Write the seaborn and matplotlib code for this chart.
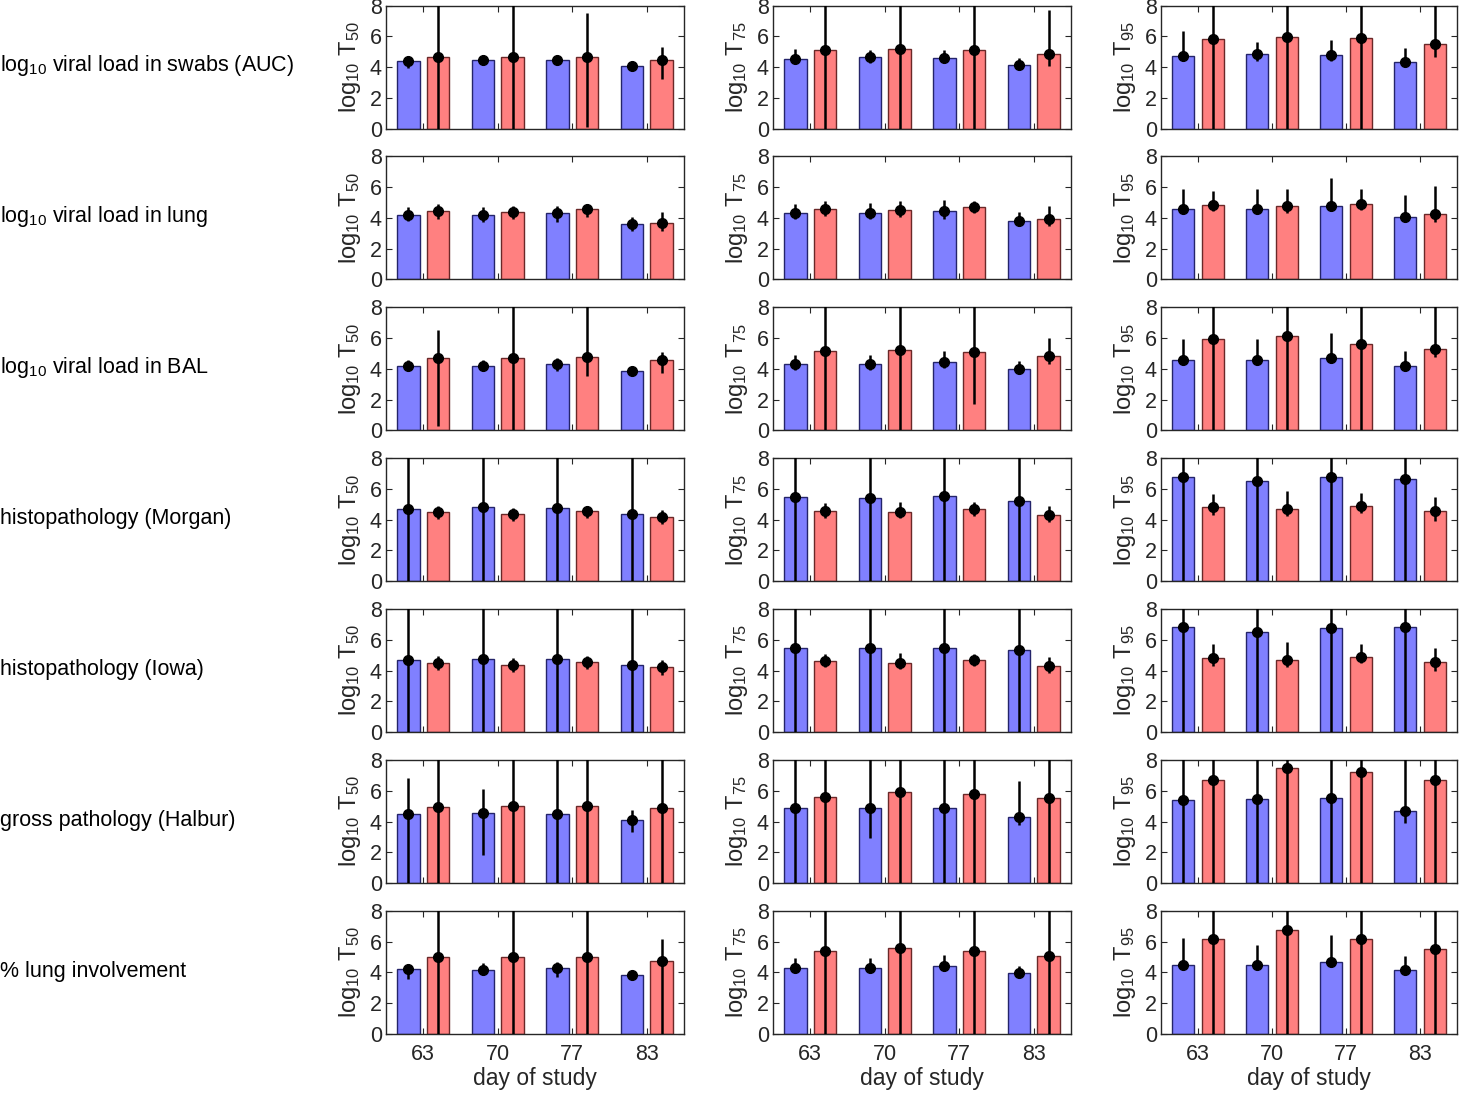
import numpy as np
import pandas as pd
import matplotlib
matplotlib.use('Agg')
import matplotlib.pyplot as plt
import seaborn as sns

days = ['63', '70', '77', '83']
row_labels = [
    r'log$_{10}$ viral load in swabs (AUC)',
    r'log$_{10}$ viral load in lung',
    r'log$_{10}$ viral load in BAL',
    'histopathology (Morgan)',
    'histopathology (Iowa)',
    'gross pathology (Halbur)',
    '% lung involvement',
]
quantiles = ['50', '75', '95']

OFF = 10.0  # interval end lies above the top of the axis

# ---- T50 ----
t50_blue = [[4.40, 4.47, 4.45, 4.04], [4.20, 4.18, 4.30, 3.63], [4.21, 4.21, 4.30, 3.88],
            [4.69, 4.80, 4.76, 4.39], [4.67, 4.78, 4.74, 4.39], [4.47, 4.54, 4.52, 4.10],
            [4.20, 4.15, 4.28, 3.85]]
t50_blue_lo = [[3.95, 4.10, 4.30, 3.95], [3.81, 3.74, 3.74, 3.15], [3.84, 3.84, 3.84, 3.62],
               [0, 0, 0, 0], [0, 0, 0, 0], [0, 1.82, 0, 3.31], [3.56, 3.83, 3.72, 3.67]]
t50_blue_hi = [[4.69, 4.75, 4.60, 4.15], [4.69, 4.69, 4.76, 4.03], [4.56, 4.56, 4.71, 4.06],
               [OFF, OFF, OFF, OFF], [OFF, OFF, OFF, OFF], [6.80, 6.10, OFF, 4.78],
               [4.55, 4.59, 4.66, 4.04]]
t50_red = [[4.65, 4.62, 4.67, 4.45], [4.43, 4.36, 4.56, 3.70], [4.69, 4.67, 4.78, 4.56],
           [4.47, 4.36, 4.56, 4.19], [4.47, 4.36, 4.56, 4.21], [4.96, 5.04, 4.98, 4.87],
           [4.98, 4.98, 4.98, 4.77]]
t50_red_lo = [[0, 0, 0.1, 3.23], [3.92, 3.92, 4.07, 3.15], [0.26, 0, 3.51, 3.73],
              [4.06, 3.93, 4.14, 3.71], [4.01, 3.88, 4.10, 3.73], [0, 0, 0, 0], [0, 0, 0, 0]]
t50_red_hi = [[OFF, OFF, 7.53, 5.33], [4.91, 4.80, 4.91, 4.36], [6.51, OFF, OFF, 5.09],
              [4.87, 4.76, 4.87, 4.65], [4.93, 4.82, 4.93, 4.71], [OFF, OFF, OFF, OFF],
              [OFF, OFF, OFF, 6.19]]

# ---- T75 ----
t75_blue = [[4.52, 4.62, 4.56, 4.13], [4.34, 4.34, 4.45, 3.83], [4.32, 4.32, 4.45, 3.99],
            [5.48, 5.44, 5.53, 5.20], [5.50, 5.44, 5.50, 5.33], [4.85, 4.89, 4.89, 4.32],
            [4.31, 4.31, 4.44, 3.96]]
t75_blue_lo = [[4.26, 4.26, 4.26, 3.94], [3.92, 3.92, 3.92, 3.48], [3.95, 3.95, 4.06, 3.73],
               [0, 0, 0, 0], [0, 0, 0, 0], [0, 2.92, 0, 3.79], [4.04, 4.04, 4.11, 3.78]]
t75_blue_hi = [[5.16, 5.08, 5.08, 4.58], [4.91, 4.98, 5.18, 4.41], [4.93, 4.93, 5.15, 4.50],
               [OFF, OFF, OFF, OFF], [OFF, OFF, OFF, OFF], [OFF, OFF, OFF, 6.64],
               [4.92, 4.94, 5.14, 4.39]]
t75_red = [[5.12, 5.16, 5.12, 4.86], [4.60, 4.49, 4.69, 3.90], [5.15, 5.22, 5.09, 4.82],
           [4.58, 4.47, 4.69, 4.32], [4.60, 4.50, 4.67, 4.32], [5.61, 5.92, 5.81, 5.53],
           [5.42, 5.60, 5.42, 5.09]]
t75_red_lo = [[0, 0, 0, 4.04], [4.14, 4.03, 4.30, 3.48], [0, 0, 1.71, 4.28],
              [4.14, 4.10, 4.21, 3.84], [4.21, 4.10, 4.28, 3.84], [0, 0, 0, 0], [0, 0, 0, 0]]
t75_red_hi = [[OFF, OFF, OFF, 7.70], [5.09, 5.13, 5.09, 4.80], [OFF, OFF, OFF, 6.03],
              [5.09, 5.15, 5.15, 4.87], [5.11, 5.15, 5.11, 4.89], [OFF, OFF, OFF, OFF],
              [OFF, OFF, OFF, OFF]]

# ---- T95 ----
t95_blue = [[4.71, 4.84, 4.75, 4.32], [4.57, 4.59, 4.75, 4.08], [4.57, 4.60, 4.71, 4.20],
            [6.75, 6.54, 6.80, 6.62], [6.82, 6.54, 6.78, 6.82], [5.42, 5.46, 5.55, 4.67],
            [4.50, 4.50, 4.66, 4.13]]
t95_blue_lo = [[4.37, 4.37, 4.37, 4.04], [4.30, 4.30, 4.42, 3.75], [4.31, 4.31, 4.42, 3.98],
               [0, 0, 0, 0], [0, 0, 0, 0], [0, 0, 0, 3.90], [4.33, 4.33, 4.44, 3.96]]
t95_blue_hi = [[6.37, 5.61, 5.76, 5.23], [5.85, 5.89, 6.62, 5.52], [5.97, 5.92, 6.30, 5.19],
               [OFF, OFF, OFF, OFF], [OFF, OFF, OFF, OFF], [OFF, OFF, OFF, OFF],
               [6.23, 5.81, 6.45, 5.09]]
t95_red = [[5.83, 5.98, 5.87, 5.48], [4.86, 4.75, 4.92, 4.26], [5.94, 6.12, 5.59, 5.30],
           [4.80, 4.71, 4.87, 4.54], [4.82, 4.69, 4.89, 4.54], [6.69, 7.48, 7.19, 6.69],
           [6.14, 6.73, 6.14, 5.53]]
t95_red_lo = [[0, 0, 0, 4.65], [4.42, 4.30, 4.53, 3.75], [0, 0, 0, 4.75],
              [4.28, 4.21, 4.43, 3.93], [4.28, 4.21, 4.50, 3.95], [0, 0, 0, 0], [0, 0, 0, 0]]
t95_red_hi = [[OFF, OFF, OFF, OFF], [5.74, 5.89, 5.85, 6.07], [OFF, OFF, OFF, OFF],
              [5.68, 5.86, 5.75, 5.46], [5.70, 5.86, 5.75, 5.44], [OFF, OFF, OFF, OFF],
              [OFF, OFF, OFF, OFF]]

cols = [
    (t50_blue, t50_blue_lo, t50_blue_hi, t50_red, t50_red_lo, t50_red_hi),
    (t75_blue, t75_blue_lo, t75_blue_hi, t75_red, t75_red_lo, t75_red_hi),
    (t95_blue, t95_blue_lo, t95_blue_hi, t95_red, t95_red_lo, t95_red_hi),
]

sns.set_style('ticks')
plt.rcParams['font.family'] = ['Liberation Sans', 'DejaVu Sans']
plt.rcParams['mathtext.fontset'] = 'custom'
plt.rcParams['mathtext.rm'] = 'Liberation Sans'
plt.rcParams['mathtext.it'] = 'Liberation Sans'
plt.rcParams['mathtext.default'] = 'regular'

face = {'blue': '#8080ff', 'red': '#ff8080'}
edge = {'blue': '#24246a', 'red': '#6a2828'}
dark = '#262626'

W, H = 1460, 1095
fig = plt.figure(figsize=(W / 100, H / 100), dpi=100)

col_left = [386, 773, 1161]
col_width = [298, 298, 296]
row_top0, row_pitch, row_h = 5.5, 150.9, 123

for r in range(7):
    top = row_top0 + r * row_pitch
    for c in range(3):
        blue, blue_lo, blue_hi, red, red_lo, red_hi = cols[c]
        ax = fig.add_axes([col_left[c] / W, 1 - (top + row_h) / H,
                           col_width[c] / W, row_h / H])
        df = pd.DataFrame({
            'day': days * 2,
            'group': ['blue'] * 4 + ['red'] * 4,
            'value': blue[r] + red[r],
        })
        sns.barplot(data=df, x='day', y='value', hue='group', order=days,
                    hue_order=['blue', 'red'], palette=face, saturation=1,
                    width=0.8, gap=0.25, errorbar=None, legend=False,
                    linewidth=1.0, ax=ax)
        for cont, g in zip(ax.containers, ['blue', 'red']):
            for p in cont:
                p.set_edgecolor(edge[g])

        xpos = np.arange(len(days))
        for off, m, lo, hi in [(-0.2, blue[r], blue_lo[r], blue_hi[r]),
                               (0.2, red[r], red_lo[r], red_hi[r])]:
            m = np.array(m)
            yerr = np.vstack([m - np.array(lo), np.array(hi) - m])
            ax.errorbar(xpos + off, m, yerr=yerr, fmt='o', color='black',
                        ms=7, elinewidth=1.8, capsize=0, zorder=5)

        ax.set_xlim(-0.5, 3.5)
        ax.set_ylim(0, 8)
        ax.set_yticks([0, 2, 4, 6, 8])
        ax.tick_params(direction='in', length=4, width=0.8, top=True, right=True,
                       labelsize=15.5, colors=dark, labelcolor=dark, pad=3)
        for s in ax.spines.values():
            s.set_color(dark)
            s.set_linewidth(1.0)
        ax.set_ylabel(r'log$_{10}$ T$_{' + quantiles[c] + '}$', fontsize=17,
                      color=dark, labelpad=5)
        if r == 6:
            ax.set_xlabel('day of study', fontsize=16.5, color=dark, labelpad=2)
            ax.tick_params(axis='x', pad=7)
        else:
            ax.set_xlabel('')
            ax.set_xticklabels([])

    fig.text(0.0, 1 - (top + row_h / 2 - 1) / H, row_labels[r], fontsize=15.5,
             color='black', ha='left', va='center')

fig.savefig('out.png', dpi=100)
